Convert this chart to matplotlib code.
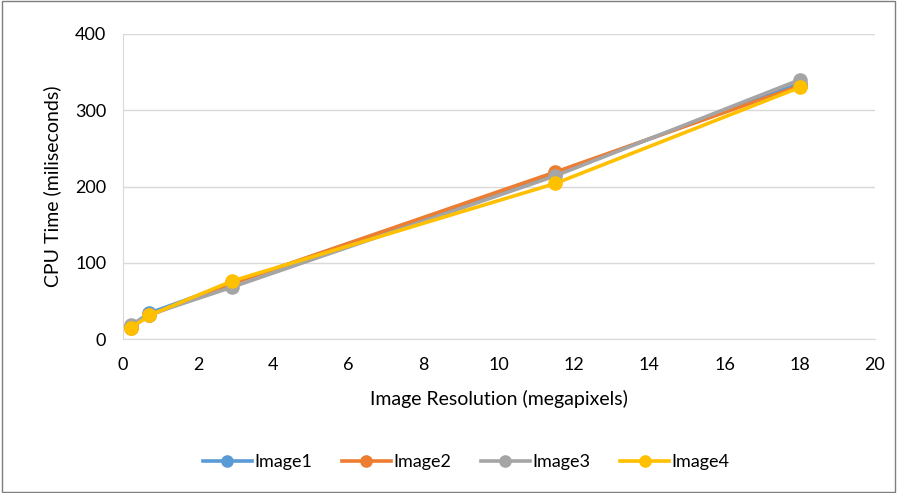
import matplotlib.pyplot as plt
from matplotlib.patches import Rectangle

# resolution in megapixels and cpu times per image
resolution = [0.2, 0.7, 2.9, 11.5, 18.0]
image1 = [17, 34, 73, 217, 335]
image2 = [15, 31, 73, 219, 332]
image3 = [18, 32, 68, 214, 340]
image4 = [14, 31, 76, 204, 330]

series = [
    ('Image1', image1, '#5b9bd5'),
    ('Image2', image2, '#ed7d31'),
    ('Image3', image3, '#a5a5a5'),
    ('Image4', image4, '#ffc000'),
]

plt.rcParams['font.family'] = ['Lato', 'DejaVu Sans']

fig = plt.figure(figsize=(8.97, 4.93), dpi=100)
ax = fig.add_axes([123 / 897, 1 - 339 / 493, (875 - 123) / 897, (339 - 34) / 493])

for name, vals, col in series:
    ax.plot(resolution, vals, color=col, linewidth=2.6, marker='o',
            markersize=9.5, label=name, zorder=3)

ax.set_xlim(0, 20)
ax.set_ylim(0, 400)
ax.set_xticks(range(0, 21, 2))
ax.set_yticks(range(0, 401, 100))
ax.yaxis.grid(True, color='#d9d9d9', linewidth=1)
ax.set_axisbelow(True)
for side in ['top', 'right']:
    ax.spines[side].set_visible(False)
for side in ['left', 'bottom']:
    ax.spines[side].set_color('#d9d9d9')
ax.tick_params(axis='x', length=0, labelsize=13, colors='black', pad=13)
ax.tick_params(axis='y', length=0, labelsize=13, colors='black', pad=12)

ax.set_xlabel('Image Resolution (megapixels)', fontsize=14, labelpad=12)
ax.set_ylabel('CPU Time (miliseconds)', fontsize=14, labelpad=10)

# legend under the plot, a little left of centre
leg_y = (339 - 462) / (339 - 34)
ax.legend(loc='center', bbox_to_anchor=(0.4565, leg_y),
          ncol=4, frameon=False, fontsize=13, handlelength=2.7,
          columnspacing=1.65, handletextpad=0.15, markerscale=0.85)

# outer frame
fig.patches.append(Rectangle((0.002, 0.002), 0.996, 0.996, transform=fig.transFigure,
                             fill=False, edgecolor='#7f7f7f', linewidth=1))

fig.savefig('out.png', dpi=100)
